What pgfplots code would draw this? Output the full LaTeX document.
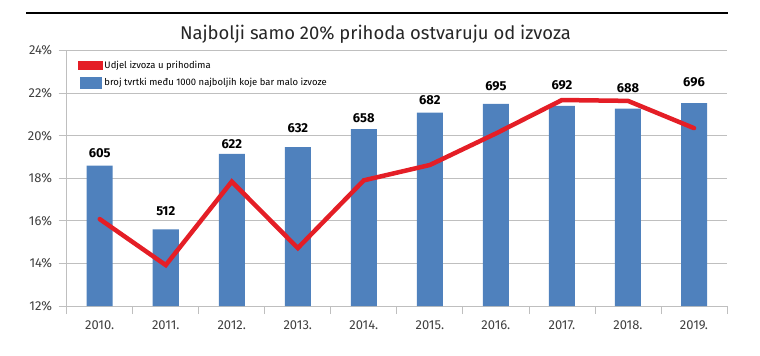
\documentclass[border=0pt]{standalone}
\usepackage{fontspec}
\setmainfont{Fira Sans}
\usepackage{pgfplots}
\usepackage{pgfplotstable}
\pgfplotsset{compat=1.18}
\definecolor{barblue}{HTML}{4F81BD}
\definecolor{linered}{HTML}{E41E26}
\definecolor{gridgray}{HTML}{BFBFBF}
\definecolor{ticktext}{HTML}{404040}
\pgfplotstableread{
x count gap
0 605 7.7
1 512 13
2 622 5
3 632 14
4 658 6.7
5 682 7.7
6 695 12.7
7 692 16
8 688 16
9 696 16
}\bardata
\pgfplotstableread{
x share
0 16.08
1 13.92
2 17.84
3 14.72
4 17.9
5 18.62
6 20.1
7 21.67
8 21.63
9 20.35
}\linedata
\begin{document}
\begin{tikzpicture}[x=1bp,y=1bp]
\path[use as bounding box] (0,0) rectangle (760,355);
\draw[line width=2.5bp, black] (26,342) -- (728,342);
\node[font=\fontsize{18.5}{20}\selectfont, anchor=base, text=black!85] at (375.5,316) {Najbolji samo 20\% prihoda ostvaruju od izvoza};
\pgfplotsset{
  base/.style={at={(66.7bp,49bp)}, anchor=south west, scale only axis,
    width=660.3bp, height=255.6bp, xmin=-0.5, xmax=9.5}
}
% axis with grid and ticks
\begin{axis}[base,
  ymin=12, ymax=24, ytick={12,14,...,24},
  yticklabels={12\%,14\%,16\%,18\%,20\%,22\%,24\%},
  ymajorgrids, grid style={gridgray, line width=0.8bp},
  axis x line*=bottom, axis y line*=left,
  axis line style={gridgray, line width=0.8bp},
  xtick={0,...,9},
  xticklabels={2010.,2011.,2012.,2013.,2014.,2015.,2016.,2017.,2018.,2019.},
  minor xtick={-0.5,0.5,...,9.5},
  major x tick style={draw=none},
  minor x tick style={gridgray, line width=0.8bp},
  y tick style={gridgray, line width=0.8bp},
  tick align=outside, major tick length=8bp, minor tick length=8bp,
  ticklabel style={font=\fontsize{13}{15}\selectfont, text=ticktext},
  yticklabel style={xshift=-3bp},
  xticklabel style={yshift=-3bp},
]
\end{axis}
% bars (counts)
\begin{axis}[base, hide axis, ymin=400.2, ymax=772.9,
  ybar, bar width=26bp,
  /pgf/number format/assume math mode=true,
  nodes near coords,
  visualization depends on={\thisrow{gap} \as \labelgap},
  every node near coord/.append style={font=\fontsize{13}{15}\selectfont\bfseries,
    text=black, inner sep=0pt, anchor=south, yshift=\labelgap pt},
]
\addplot[fill=barblue, draw=none] table[x=x, y=count] {\bardata};
\end{axis}
% line (percent)
\begin{axis}[base, hide axis, ymin=12, ymax=24,
  legend style={at={(0,1)}, anchor=north west, xshift=8bp, yshift=-7bp,
    draw=none, fill=none, font=\fontsize{9.5}{11}\selectfont,
    nodes={inner sep=1.5bp}, row sep=5.5bp},
  legend cell align=left,
]
\addplot[linered, line width=4.5bp, line cap=round,
  legend image code/.code={\fill[linered] (0bp,-2.5bp) rectangle (20.6bp,2.5bp);}]
  table[x=x, y=share] {\linedata};
\addlegendentry{Udjel izvoza u prihodima}
\addlegendimage{legend image code/.code={\fill[barblue] (0bp,-5.5bp) rectangle (20.6bp,5.5bp);}}
\addlegendentry{broj tvrtki među 1000 najboljih koje bar malo izvoze}
\end{axis}
\end{tikzpicture}
\end{document}
